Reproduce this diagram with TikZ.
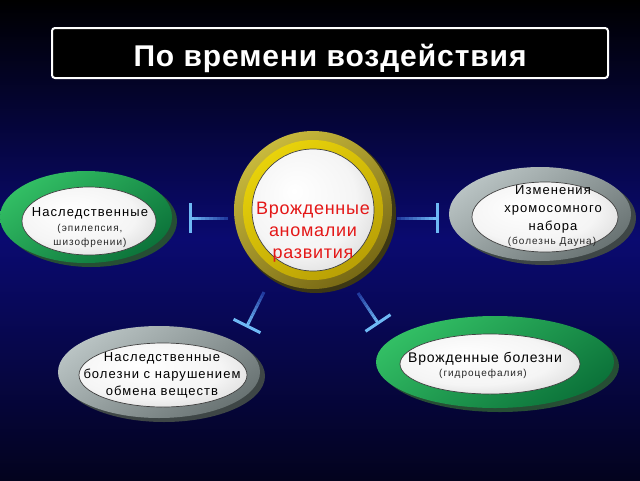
\documentclass[tikz,border=0pt]{standalone}
\usepackage{fontspec}
\setmainfont{Liberation Sans}
\usetikzlibrary{calc,arrows.meta}
\definecolor{navyc}{RGB}{10,10,112}
\definecolor{botc}{RGB}{3,3,30}
\definecolor{greenl}{RGB}{50,190,100}
\definecolor{greend}{RGB}{12,115,58}
\definecolor{greens}{RGB}{38,78,52}
\definecolor{greyl}{RGB}{185,195,195}
\definecolor{greyd}{RGB}{105,115,115}
\definecolor{greys}{RGB}{62,70,70}
\definecolor{goldl}{RGB}{200,185,60}
\definecolor{goldd}{RGB}{120,105,20}
\definecolor{golds}{RGB}{60,55,20}
\definecolor{goldy}{RGB}{232,210,10}
\definecolor{goldyd}{RGB}{185,160,5}
\definecolor{redc}{RGB}{228,24,24}
\definecolor{abl}{RGB}{110,185,245}
\definecolor{abd}{RGB}{25,45,150}
\pgfdeclareradialshading{diskshade}{\pgfpoint{-8bp}{8bp}}{color(0bp)=(white); color(22bp)=(white!96!black); color(40bp)=(white!80!black); color(48bp)=(white!62!black); color(50bp)=(white!55!black)}
\tikzset{
  disk/.style={shading=diskshade},
  diskline/.style={draw=black!75, line width=0.7pt},
  maintext/.style={align=center, inner sep=0pt, anchor=base, text=black, font=\fontsize{13}{17}\selectfont\addfontfeature{LetterSpace=8}},
  subtext/.style={align=center, inner sep=0pt, anchor=base, text=black!85, font=\fontsize{10}{14}\selectfont\addfontfeature{LetterSpace=10}},
  conn/.style={line width=3pt, line cap=butt},
}
\newcommand\ringE[7]{%
  \coordinate (#1) at #2;
  \fill[#7] ($(#1)+(5,4)$) ellipse [x radius=#3, y radius=#4];
  \shade[top color=#5, bottom color=#6, shading angle=35] (#1) ellipse [x radius=#3, y radius=#4];
}
\newcommand\diskE[4]{%
  \coordinate (#1) at #2;
  \shade[disk] (#1) ellipse [x radius=#3, y radius=#4];
  \draw[diskline] (#1) ellipse [x radius=#3, y radius=#4];
}
\newcommand\connT[2]{%
  \foreach \i [evaluate=\i as \j using \i+1, evaluate=\i as \p using 100*(\i+1)/10] in {0,...,9}
    \draw[conn, color=abl!\p!abd] ($(#1)!\i/10!(#2)$) -- ($(#1)!\j/10!(#2)$);
  \draw[conn, color=abl] ($(#2)!15pt!90:(#1)$) -- ($(#2)!15pt!-90:(#1)$);
}
\begin{document}
\begin{tikzpicture}[x=1pt,y=-1pt]
\useasboundingbox (0,0) rectangle (640,480);
\shade[top color=black, bottom color=navyc] (0,0) rectangle (640,240);
\shade[top color=navyc, bottom color=botc] (0,239.5) rectangle (640,480);
% title
\draw[white, line width=2pt, fill=black, rounded corners=3pt] (52,28) rectangle (608,78);
\node[anchor=base, text=white, inner sep=0pt, font=\fontsize{30}{34}\selectfont\bfseries\addfontfeature{LetterSpace=3}] (title) at (330,66) {По времени воздействия};
% left
\ringE{L}{(86,217)}{86}{46}{greenl}{greend}{greens}
\diskE{Ld}{(89,221)}{67}{34}
\node[maintext] (Lt) at (90,216.5) {Наследственные};
\node[subtext] (Ls) at (90,245.5) {(эпилепсия,\\шизофрении)};
% right
\ringE{R}{(540,214)}{91}{47}{greyl}{greyd}{greys}
\diskE{Rd}{(545,217)}{73}{35}
\node[maintext, font=\fontsize{13}{18}\selectfont\addfontfeature{LetterSpace=8}] (Rt) at (553,230.5) {Изменения\\хромосомного\\набора};
\node[subtext] (Rs) at (552,244.5) {(болезнь Дауна)};
% bottom left
\ringE{B}{(159,372)}{101}{46}{greyl}{greyd}{greys}
\diskE{Bd}{(163,375)}{84}{32}
\node[maintext] (Bt) at (162,395.5) {Наследственные\\болезни с нарушением\\обмена веществ};
% bottom right
\ringE{D}{(495,362)}{119}{46}{greenl}{greend}{greens}
\diskE{Dd}{(490,364)}{90}{30}
\node[maintext, font=\fontsize{14}{17}\selectfont\addfontfeature{LetterSpace=6}] (Dt) at (485,362) {Врожденные болезни};
\node[subtext] (Ds) at (483,376.5) {(гидроцефалия)};
% centre
\coordinate (C) at (313,210);
\fill[golds] ($(C)+(3,3)$) circle [radius=80];
\shade[top color=goldl, bottom color=goldd, shading angle=35] (C) circle [radius=79];
\shade[top color=goldy, bottom color=goldyd, shading angle=35] (C) circle [radius=70];
\shade[disk] (C) circle [radius=61];
\draw[diskline] (C) circle [radius=61];
\node[align=center, inner sep=0pt, anchor=base, text=redc, font=\fontsize{18}{22}\selectfont\addfontfeature{LetterSpace=4}] (Ct) at (313,258) {Врожденные\\аномалии\\развития};
% connectors
\coordinate (a1) at (228,218); \coordinate (b1) at (190,218);
\coordinate (a2) at (397,218); \coordinate (b2) at (437,218);
\coordinate (a3) at (264,292); \coordinate (b3) at (247,326);
\coordinate (a4) at (358,293); \coordinate (b4) at (378,323);
\connT{a1}{b1}
\connT{a2}{b2}
\connT{a3}{b3}
\connT{a4}{b4}
\end{tikzpicture}
\end{document}
